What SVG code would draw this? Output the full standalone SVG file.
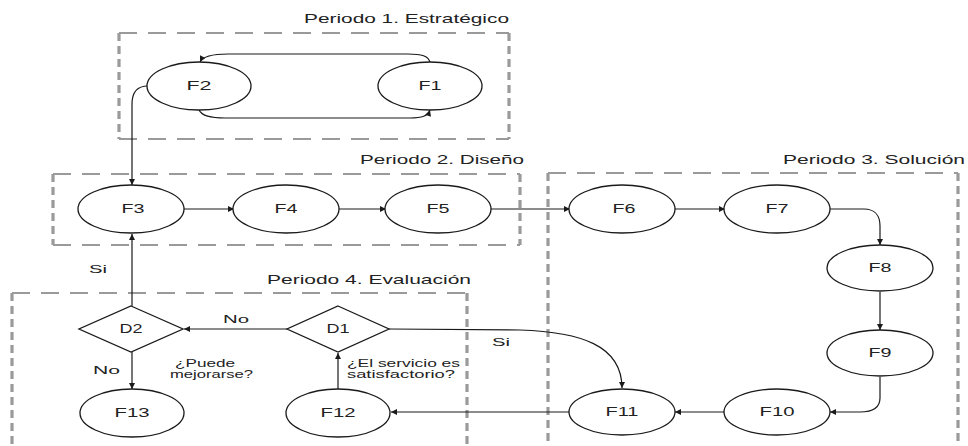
<svg xmlns="http://www.w3.org/2000/svg" width="968" height="446" viewBox="0 0 968 446">
<style>
  .bg{fill:#ffffff}
  .hd{stroke:#9a9a9a;stroke-width:2.2;stroke-dasharray:18 11;fill:none}
  .vd{stroke:#9a9a9a;stroke-width:3.2;stroke-dasharray:8 5;fill:none}
  .node{fill:#ffffff;stroke:#1a1a1a;stroke-width:1.3}
  .lbl{font-family:"Liberation Sans",Arial,sans-serif;font-size:12px;fill:#222;text-anchor:middle}
  .ttl{font-family:"Liberation Sans",Arial,sans-serif;font-size:13px;fill:#222}
  .txt{font-family:"Liberation Sans",Arial,sans-serif;font-size:11px;fill:#222}
  .edge{fill:none;stroke:#1a1a1a;stroke-width:1.2}
</style>
<defs>
  <marker id="arr" viewBox="0 0 10 10" refX="10" refY="5" markerWidth="7" markerHeight="6" markerUnits="userSpaceOnUse" orient="auto">
    <path d="M0,0 L10,5 L0,10 z" fill="#1a1a1a"/>
  </marker>
</defs>
<rect class="bg" x="0" y="0" width="968" height="446"/>

<g id="periods">
  <g id="period1">
    <line class="hd" x1="119" y1="33" x2="509" y2="33"/>
    <line class="hd" x1="119" y1="139" x2="509" y2="139"/>
    <line class="vd" x1="119" y1="33" x2="119" y2="139"/>
    <line class="vd" x1="509" y1="33" x2="509" y2="139"/>
    <text class="ttl" x="304" y="23" textLength="205" lengthAdjust="spacingAndGlyphs">Periodo 1. Estratégico</text>
  </g>
  <g id="period2">
    <line class="hd" x1="53" y1="174" x2="520" y2="174"/>
    <line class="hd" x1="53" y1="245" x2="520" y2="245"/>
    <line class="vd" x1="53" y1="174" x2="53" y2="245"/>
    <line class="vd" x1="520" y1="174" x2="520" y2="245"/>
    <text class="ttl" x="360" y="164" textLength="164" lengthAdjust="spacingAndGlyphs">Periodo 2. Diseño</text>
  </g>
  <g id="period3">
    <line class="hd" x1="548" y1="173" x2="958" y2="173"/>
    <line class="vd" x1="548" y1="173" x2="548" y2="446"/>
    <line class="vd" x1="958" y1="173" x2="958" y2="446"/>
    <text class="ttl" x="783" y="164" textLength="182" lengthAdjust="spacingAndGlyphs">Periodo 3. Solución</text>
  </g>
  <g id="period4">
    <line class="hd" x1="12" y1="293" x2="467" y2="293"/>
    <line class="vd" x1="12" y1="293" x2="12" y2="446"/>
    <line class="vd" x1="467" y1="293" x2="467" y2="446"/>
    <text class="ttl" x="267" y="284" textLength="204" lengthAdjust="spacingAndGlyphs">Periodo 4. Evaluación</text>
  </g>
</g>

<g id="connectors">
  <path class="edge" marker-end="url(#arr)" d="M430,62 C428,56 422,54 408,54 L228,54 C212,54 203,56 200,62"/>
  <path class="edge" marker-end="url(#arr)" d="M199,110 C202,116 210,118 225,118 L410,118 C422,118 428,116 430,110"/>
  <path class="edge" marker-end="url(#arr)" d="M148,86 C138,86 132,92 132,104 L132,185"/>
  <path class="edge" marker-end="url(#arr)" d="M184,209 L234,209"/>
  <path class="edge" marker-end="url(#arr)" d="M339,209 L386,209"/>
  <path class="edge" marker-end="url(#arr)" d="M491,209 L570,209"/>
  <path class="edge" marker-end="url(#arr)" d="M675,209 L725,209"/>
  <path class="edge" marker-end="url(#arr)" d="M830,209 L864,209 C874,209 880,215 880,226 L880,245"/>
  <path class="edge" marker-end="url(#arr)" d="M880,292 L880,330"/>
  <path class="edge" marker-end="url(#arr)" d="M880,377 L880,398 C880,408 872,412 860,412 L830,412"/>
  <path class="edge" marker-end="url(#arr)" d="M725,412 L675,412"/>
  <path class="edge" marker-end="url(#arr)" d="M570,412 L391,412"/>
  <path class="edge" marker-end="url(#arr)" d="M338,389 L338,353"/>
  <path class="edge" marker-end="url(#arr)" d="M287,329 L184,329"/>
  <path class="edge" marker-end="url(#arr)" d="M389,329 L520,330 C580,332 622,345 622,388"/>
  <path class="edge" marker-end="url(#arr)" d="M132,306 L132,234"/>
  <path class="edge" marker-end="url(#arr)" d="M132,352 L132,389"/>
  <text class="txt" x="89" y="273" textLength="18" lengthAdjust="spacingAndGlyphs">Si</text>
  <text class="txt" x="223" y="323" textLength="26" lengthAdjust="spacingAndGlyphs">No</text>
  <text class="txt" x="93" y="374" textLength="27" lengthAdjust="spacingAndGlyphs">No</text>
  <text class="txt" x="492" y="346" textLength="18" lengthAdjust="spacingAndGlyphs">Si</text>
  <text class="txt" x="175" y="367" textLength="60" lengthAdjust="spacingAndGlyphs">¿Puede</text>
  <text class="txt" x="170" y="378" textLength="83" lengthAdjust="spacingAndGlyphs">mejorarse?</text>
  <text class="txt" x="347" y="367" textLength="113" lengthAdjust="spacingAndGlyphs">¿El servicio es</text>
  <text class="txt" x="347" y="378" textLength="108" lengthAdjust="spacingAndGlyphs">satisfactorio?</text>
</g>

<g id="F1"><ellipse class="node" cx="430" cy="86" rx="52" ry="24"/><text class="lbl" x="430" y="90" textLength="23" lengthAdjust="spacingAndGlyphs">F1</text></g>
<g id="F2"><ellipse class="node" cx="199" cy="86" rx="52" ry="24"/><text class="lbl" x="199" y="90" textLength="25" lengthAdjust="spacingAndGlyphs">F2</text></g>
<g id="F3"><ellipse class="node" cx="131" cy="209" rx="53" ry="24"/><text class="lbl" x="133" y="213" textLength="23" lengthAdjust="spacingAndGlyphs">F3</text></g>
<g id="F4"><ellipse class="node" cx="286" cy="209" rx="53" ry="24"/><text class="lbl" x="286" y="213" textLength="23" lengthAdjust="spacingAndGlyphs">F4</text></g>
<g id="F5"><ellipse class="node" cx="438" cy="209" rx="53" ry="24"/><text class="lbl" x="438" y="213" textLength="23" lengthAdjust="spacingAndGlyphs">F5</text></g>
<g id="F6"><ellipse class="node" cx="622" cy="209" rx="53" ry="24"/><text class="lbl" x="624" y="213" textLength="23" lengthAdjust="spacingAndGlyphs">F6</text></g>
<g id="F7"><ellipse class="node" cx="777" cy="209" rx="53" ry="24"/><text class="lbl" x="777" y="213" textLength="23" lengthAdjust="spacingAndGlyphs">F7</text></g>
<g id="F8"><ellipse class="node" cx="880" cy="268" rx="53" ry="23"/><text class="lbl" x="880" y="272" textLength="23" lengthAdjust="spacingAndGlyphs">F8</text></g>
<g id="F9"><ellipse class="node" cx="880" cy="353" rx="53" ry="23"/><text class="lbl" x="880" y="357" textLength="23" lengthAdjust="spacingAndGlyphs">F9</text></g>
<g id="F10"><ellipse class="node" cx="777" cy="412" rx="53" ry="23"/><text class="lbl" x="777" y="416" textLength="35" lengthAdjust="spacingAndGlyphs">F10</text></g>
<g id="F11"><ellipse class="node" cx="622" cy="412" rx="53" ry="23"/><text class="lbl" x="622" y="416" textLength="33" lengthAdjust="spacingAndGlyphs">F11</text></g>
<g id="F12"><ellipse class="node" cx="338" cy="413" rx="52" ry="24"/><text class="lbl" x="338" y="417" textLength="35" lengthAdjust="spacingAndGlyphs">F12</text></g>
<g id="F13"><ellipse class="node" cx="132" cy="413" rx="52" ry="24"/><text class="lbl" x="132" y="417" textLength="35" lengthAdjust="spacingAndGlyphs">F13</text></g>
<g id="D1"><path class="node" d="M338,306 L389,329 L338,352 L287,329 Z"/><text class="lbl" x="338" y="333" textLength="23" lengthAdjust="spacingAndGlyphs">D1</text></g>
<g id="D2"><path class="node" d="M131,306 L183,329 L131,352 L79,329 Z"/><text class="lbl" x="131" y="333" textLength="23" lengthAdjust="spacingAndGlyphs">D2</text></g>
</svg>
